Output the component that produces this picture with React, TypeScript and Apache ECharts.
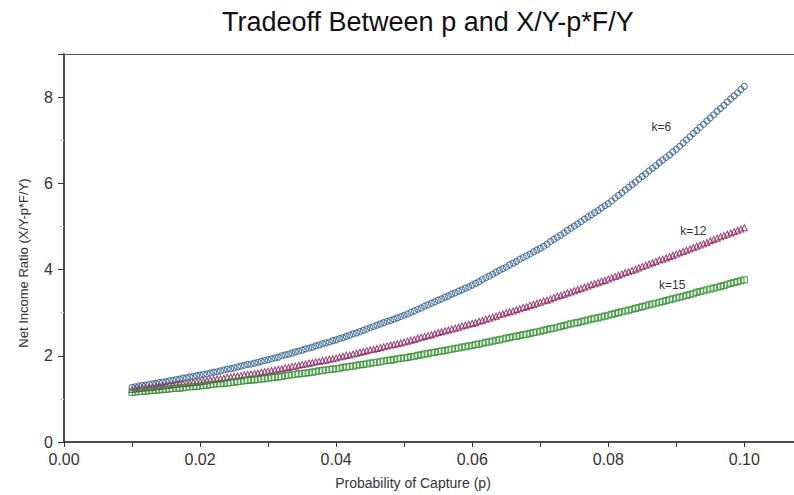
import React, { useEffect, useRef } from "react";
import * as echarts from "echarts";

const TITLE = "Tradeoff Between p and X/Y-p*F/Y";
const X_NAME = "Probability of Capture (p)";
const Y_NAME = "Net Income Ratio (X/Y-p*F/Y)";
const seriesNames = ["k=6", "k=12", "k=15"];

const p = [
  0.01,
  0.0105, 0.011, 0.0115, 0.012, 0.0125, 0.013, 0.0135, 0.014, 0.0145, 0.015, 0.0155, 0.016, 0.0165, 0.017, 0.0175, 0.018, 0.0185, 0.019, 0.0195, 0.02,
  0.0205, 0.021, 0.0215, 0.022, 0.0225, 0.023, 0.0235, 0.024, 0.0245, 0.025, 0.0255, 0.026, 0.0265, 0.027, 0.0275, 0.028, 0.0285, 0.029, 0.0295, 0.03,
  0.0305, 0.031, 0.0315, 0.032, 0.0325, 0.033, 0.0335, 0.034, 0.0345, 0.035, 0.0355, 0.036, 0.0365, 0.037, 0.0375, 0.038, 0.0385, 0.039, 0.0395, 0.04,
  0.0405, 0.041, 0.0415, 0.042, 0.0425, 0.043, 0.0435, 0.044, 0.0445, 0.045, 0.0455, 0.046, 0.0465, 0.047, 0.0475, 0.048, 0.0485, 0.049, 0.0495, 0.05,
  0.0505, 0.051, 0.0515, 0.052, 0.0525, 0.053, 0.0535, 0.054, 0.0545, 0.055, 0.0555, 0.056, 0.0565, 0.057, 0.0575, 0.058, 0.0585, 0.059, 0.0595, 0.06,
  0.0605, 0.061, 0.0615, 0.062, 0.0625, 0.063, 0.0635, 0.064, 0.0645, 0.065, 0.0655, 0.066, 0.0665, 0.067, 0.0675, 0.068, 0.0685, 0.069, 0.0695, 0.07,
  0.0705, 0.071, 0.0715, 0.072, 0.0725, 0.073, 0.0735, 0.074, 0.0745, 0.075, 0.0755, 0.076, 0.0765, 0.077, 0.0775, 0.078, 0.0785, 0.079, 0.0795, 0.08,
  0.0805, 0.081, 0.0815, 0.082, 0.0825, 0.083, 0.0835, 0.084, 0.0845, 0.085, 0.0855, 0.086, 0.0865, 0.087, 0.0875, 0.088, 0.0885, 0.089, 0.0895, 0.09,
  0.0905, 0.091, 0.0915, 0.092, 0.0925, 0.093, 0.0935, 0.094, 0.0945, 0.095, 0.0955, 0.096, 0.0965, 0.097, 0.0975, 0.098, 0.0985, 0.099, 0.0995, 0.1,
];

const k6 = [
  1.27,
  1.28, 1.30, 1.31, 1.32, 1.34, 1.35, 1.36, 1.38, 1.39, 1.40, 1.42, 1.43, 1.45, 1.46, 1.48, 1.49, 1.51, 1.52, 1.54, 1.55,
  1.57, 1.58, 1.60, 1.62, 1.63, 1.65, 1.67, 1.69, 1.70, 1.72, 1.74, 1.76, 1.78, 1.80, 1.81, 1.83, 1.85, 1.87, 1.89, 1.91,
  1.93, 1.95, 1.97, 2.00, 2.02, 2.04, 2.06, 2.09, 2.11, 2.13, 2.16, 2.18, 2.20, 2.23, 2.25, 2.28, 2.30, 2.32, 2.35, 2.37,
  2.40, 2.42, 2.45, 2.48, 2.51, 2.53, 2.56, 2.59, 2.62, 2.65, 2.68, 2.71, 2.74, 2.77, 2.80, 2.82, 2.85, 2.88, 2.91, 2.94,
  2.97, 3.01, 3.04, 3.08, 3.11, 3.15, 3.18, 3.22, 3.25, 3.29, 3.32, 3.36, 3.39, 3.43, 3.46, 3.50, 3.53, 3.57, 3.60, 3.64,
  3.68, 3.72, 3.77, 3.81, 3.85, 3.89, 3.94, 3.98, 4.02, 4.06, 4.11, 4.15, 4.19, 4.24, 4.28, 4.32, 4.36, 4.41, 4.45, 4.49,
  4.54, 4.59, 4.65, 4.70, 4.75, 4.80, 4.85, 4.91, 4.96, 5.01, 5.06, 5.11, 5.17, 5.22, 5.27, 5.32, 5.37, 5.43, 5.48, 5.53,
  5.59, 5.66, 5.72, 5.78, 5.85, 5.91, 5.97, 6.03, 6.10, 6.16, 6.22, 6.29, 6.35, 6.41, 6.48, 6.54, 6.60, 6.66, 6.73, 6.79,
  6.86, 6.94, 7.01, 7.08, 7.16, 7.23, 7.30, 7.37, 7.45, 7.52, 7.59, 7.67, 7.74, 7.81, 7.89, 7.96, 8.03, 8.10, 8.18, 8.25,
];

const k12 = [
  1.22,
  1.23, 1.24, 1.25, 1.26, 1.26, 1.27, 1.28, 1.29, 1.30, 1.31, 1.32, 1.33, 1.34, 1.35, 1.35, 1.36, 1.37, 1.38, 1.39, 1.40,
  1.41, 1.42, 1.44, 1.45, 1.46, 1.47, 1.48, 1.50, 1.51, 1.52, 1.53, 1.54, 1.56, 1.57, 1.58, 1.59, 1.60, 1.62, 1.63, 1.64,
  1.66, 1.67, 1.69, 1.70, 1.72, 1.73, 1.75, 1.76, 1.78, 1.80, 1.81, 1.83, 1.84, 1.86, 1.87, 1.89, 1.90, 1.92, 1.93, 1.95,
  1.97, 1.99, 2.01, 2.02, 2.04, 2.06, 2.08, 2.10, 2.12, 2.14, 2.15, 2.17, 2.19, 2.21, 2.23, 2.25, 2.26, 2.28, 2.30, 2.32,
  2.34, 2.36, 2.38, 2.41, 2.43, 2.45, 2.47, 2.49, 2.51, 2.54, 2.56, 2.58, 2.60, 2.62, 2.64, 2.66, 2.69, 2.71, 2.73, 2.75,
  2.77, 2.80, 2.82, 2.85, 2.87, 2.90, 2.92, 2.95, 2.97, 3.00, 3.02, 3.04, 3.07, 3.09, 3.12, 3.14, 3.17, 3.19, 3.22, 3.24,
  3.27, 3.29, 3.32, 3.35, 3.38, 3.40, 3.43, 3.46, 3.48, 3.51, 3.54, 3.56, 3.59, 3.62, 3.65, 3.67, 3.70, 3.73, 3.75, 3.78,
  3.81, 3.84, 3.87, 3.90, 3.93, 3.95, 3.98, 4.01, 4.04, 4.07, 4.10, 4.13, 4.16, 4.19, 4.22, 4.24, 4.27, 4.30, 4.33, 4.36,
  4.39, 4.42, 4.45, 4.48, 4.51, 4.54, 4.57, 4.60, 4.63, 4.67, 4.70, 4.73, 4.76, 4.79, 4.82, 4.85, 4.88, 4.91, 4.94, 4.97,
];

const k15 = [
  1.15,
  1.16, 1.17, 1.17, 1.18, 1.19, 1.20, 1.20, 1.21, 1.22, 1.22, 1.23, 1.24, 1.25, 1.25, 1.26, 1.27, 1.28, 1.28, 1.29, 1.30,
  1.31, 1.32, 1.33, 1.34, 1.35, 1.35, 1.36, 1.37, 1.38, 1.39, 1.40, 1.41, 1.42, 1.43, 1.44, 1.44, 1.45, 1.46, 1.47, 1.48,
  1.49, 1.50, 1.51, 1.52, 1.54, 1.55, 1.56, 1.57, 1.58, 1.59, 1.60, 1.61, 1.62, 1.63, 1.65, 1.66, 1.67, 1.68, 1.69, 1.70,
  1.71, 1.73, 1.74, 1.75, 1.76, 1.78, 1.79, 1.80, 1.81, 1.83, 1.84, 1.85, 1.86, 1.88, 1.89, 1.90, 1.91, 1.93, 1.94, 1.95,
  1.96, 1.98, 1.99, 2.01, 2.02, 2.04, 2.05, 2.07, 2.08, 2.10, 2.11, 2.12, 2.14, 2.15, 2.17, 2.18, 2.20, 2.21, 2.23, 2.24,
  2.26, 2.27, 2.29, 2.31, 2.32, 2.34, 2.36, 2.37, 2.39, 2.41, 2.42, 2.44, 2.45, 2.47, 2.49, 2.50, 2.52, 2.54, 2.55, 2.57,
  2.59, 2.61, 2.63, 2.64, 2.66, 2.68, 2.70, 2.72, 2.74, 2.76, 2.77, 2.79, 2.81, 2.83, 2.85, 2.87, 2.88, 2.90, 2.92, 2.94,
  2.96, 2.98, 3.00, 3.02, 3.04, 3.06, 3.08, 3.10, 3.12, 3.14, 3.16, 3.18, 3.20, 3.22, 3.24, 3.26, 3.28, 3.30, 3.32, 3.34,
  3.36, 3.38, 3.40, 3.42, 3.44, 3.47, 3.49, 3.51, 3.53, 3.55, 3.57, 3.59, 3.61, 3.63, 3.66, 3.68, 3.70, 3.72, 3.74, 3.76,
];

// label anchors in data units (p, value) for the curve annotations
const labelAnchors: [number, number][] = [
  [0.0878, 7.3],
  [0.0925, 4.9],
  [0.0894, 3.64],
];

const colors = ["#2b5b8a", "#8a1f5c", "#2f8f2f"];
const symbols = ["circle", "triangle", "rect"];
const symbolSizes = [6, 6, 6];

const FONT = "'Liberation Sans', Arial, Helvetica, sans-serif";

export default function App() {
  const ref = useRef<HTMLDivElement>(null);

  useEffect(() => {
    if (!ref.current) return;
    const chart = echarts.init(ref.current, null, { renderer: "svg" });
    const allValues = [k6, k12, k15];

    const series = allValues.map((vals, i) => ({
      type: "scatter",
      name: seriesNames[i],
      xAxisIndex: 0,
      yAxisIndex: 0,
      symbol: symbols[i],
      symbolSize: symbolSizes[i],
      silent: true,
      itemStyle: {
        color: "rgba(255,255,255,0)",
        borderColor: colors[i],
        borderWidth: 1.1,
      },
      data: p.map((x, j) => [x, vals[j]]),
      markPoint: {
        symbol: "rect",
        symbolSize: 1,
        silent: true,
        itemStyle: { color: "rgba(0,0,0,0)" },
        label: {
          show: true,
          position: "inside",
          formatter: seriesNames[i],
          color: "#333",
          fontSize: 12,
          fontFamily: FONT,
        },
        data: [{ coord: labelAnchors[i], value: seriesNames[i] }],
      },
    }));

    const xFormatter = (v: number) => {
      const r = v / 0.02;
      return Math.abs(r - Math.round(r)) < 1e-6 ? v.toFixed(2) : "";
    };
    const yFormatter = (v: number) => (Math.abs(v % 2) < 1e-9 ? String(v) : "");

    chart.setOption({
      animation: false,
      backgroundColor: "#ffffff",
      title: {
        text: TITLE,
        left: 217,
        top: 3,
        textStyle: {
          fontFamily: FONT,
          fontSize: 27,
          fontWeight: "normal",
          color: "#111",
        },
      },
      grid: { left: 64, right: 0, top: 54, bottom: 50 },
      xAxis: [
        {
          type: "value",
          min: 0,
          max: 0.1073,
          interval: 0.01,
          axisLine: { show: true, onZero: false, lineStyle: { color: "#111", width: 1.5 } },
          axisTick: { show: true, length: 5, lineStyle: { color: "#333" } },
          axisLabel: {
            formatter: xFormatter,
            fontSize: 16,
            color: "#333",
            margin: 9,
            fontFamily: FONT,
            showMaxLabel: false,
          },
          splitLine: { show: false },
          name: X_NAME,
          nameLocation: "middle",
          nameGap: 34,
          nameTextStyle: {
            fontSize: 14,
            color: "#333",
            fontFamily: FONT,
            padding: [0, 32, 0, 0],
          },
        },
        {
          type: "value",
          position: "top",
          min: 0,
          max: 0.1073,
          axisLine: { show: true, onZero: false, lineStyle: { color: "#555", width: 1 } },
          axisTick: { show: false },
          axisLabel: { show: false },
          splitLine: { show: false },
        },
      ],
      yAxis: {
        type: "value",
        min: 0,
        max: 9,
        interval: 2,
        axisLine: { show: true, onZero: false, lineStyle: { color: "#111", width: 1.5 } },
        axisTick: { show: true, length: 6, lineStyle: { color: "#333" } },
        minorTick: { show: true, splitNumber: 2, length: 4, lineStyle: { color: "#c8c8c8" } },
        axisLabel: {
          formatter: yFormatter,
          fontSize: 16,
          color: "#333",
          margin: 11,
          fontFamily: FONT,
          showMaxLabel: false,
        },
        splitLine: { show: false },
        name: Y_NAME,
        nameLocation: "middle",
        nameGap: 34,
        nameTextStyle: {
          fontSize: 13,
          color: "#333",
          fontFamily: FONT,
          padding: [0, 30, 0, 0],
        },
      },
      series,
    });

    return () => chart.dispose();
  }, []);

  return (
    <div
      ref={ref}
      style={{ position: "fixed", left: 0, top: 0, width: 794, height: 495 }}
    />
  );
}
